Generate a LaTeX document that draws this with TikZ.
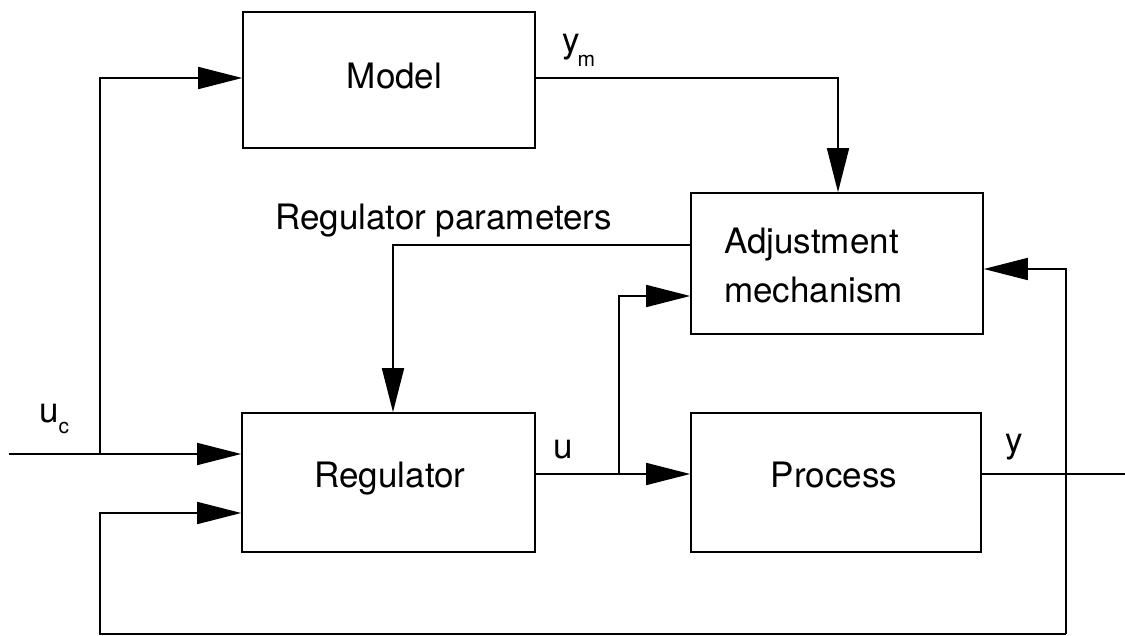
\documentclass[tikz,border=0pt]{standalone}
\usepackage{fontspec}
\setmainfont{TeX Gyre Heros}
\usetikzlibrary{arrows.meta}
\begin{document}
\begin{tikzpicture}[x=1pt,y=-1pt,
  box/.style={draw, line width=1.6pt, inner sep=0pt},
  lbl/.style={font=\fontsize{35}{49}\selectfont, inner sep=0pt, anchor=base west},
  conn/.style={line width=1.6pt},
  arr/.style={conn, -{Triangle[length=44pt,width=22pt]}}]
\useasboundingbox (0,0) rectangle (1125,636);
% blocks
\node[box, minimum width=292pt, minimum height=136pt] (model) at (389,80) {};
\node[box, minimum width=292pt, minimum height=141pt] (adj) at (837,263.5) {};
\node[box, minimum width=293pt, minimum height=139pt] (reg) at (388.5,482.5) {};
\node[box, minimum width=290pt, minimum height=139pt] (proc) at (836,482.5) {};
% block texts
\node[lbl, anchor=base] (tmodel) at (394.5,89) {Model};
\node[lbl, anchor=base] (treg) at (390,487) {Regulator};
\node[lbl, anchor=base] (tproc) at (834,487) {Process};
\node[lbl, align=left, anchor=north west] (tadj) at (724,227.5) {Adjustment\\mechanism};
% signal labels
\node[lbl] (luc) at (39,422) {u\raisebox{-11pt}{\fontsize{21}{21}\selectfont c}};
\node[lbl] (lym) at (562,53) {y\kern-2pt\raisebox{-14pt}{\fontsize{21}{21}\selectfont m}};
\node[lbl] (lu) at (553,458) {u};
\node[lbl] (ly) at (1005,452) {y};
\node[lbl] (lrp) at (275,230) {Regulator parameters};
% coordinates
\coordinate (inl) at (9,454);
\coordinate (br1) at (100,454);
\coordinate (mdl) at (100,78);
\coordinate (ymc) at (838,78);
\coordinate (rp) at (393,245);
\coordinate (ub) at (619,474);
\coordinate (ua) at (619,296);
\coordinate (yout) at (1125,474);
\coordinate (yt) at (1066,269);
\coordinate (ybot) at (1066,634);
\coordinate (lbot) at (100,634);
\coordinate (lfb) at (100,513);
% connectors
\draw[conn] (inl) -- (br1);
\draw[arr] (br1) -- (reg.west |- br1);
\draw[arr] (br1) -- (mdl) -- (model.west |- mdl);
\draw[arr] (model.east |- ymc) -- (ymc) -- (adj.north -| ymc);
\draw[arr] (adj.west |- rp) -- (rp) -- (reg.north -| rp);
\draw[arr] (reg.east |- ub) -- (proc.west |- ub);
\draw[arr] (ub) -- (ua) -- (adj.west |- ua);
\draw[conn] (proc.east |- yout) -- (yout);
\draw[arr] (ybot) -- (yt) -- (adj.east |- yt);
\draw[arr] (ybot) -- (lbot) -- (lfb) -- (reg.west |- lfb);
\end{tikzpicture}
\end{document}
